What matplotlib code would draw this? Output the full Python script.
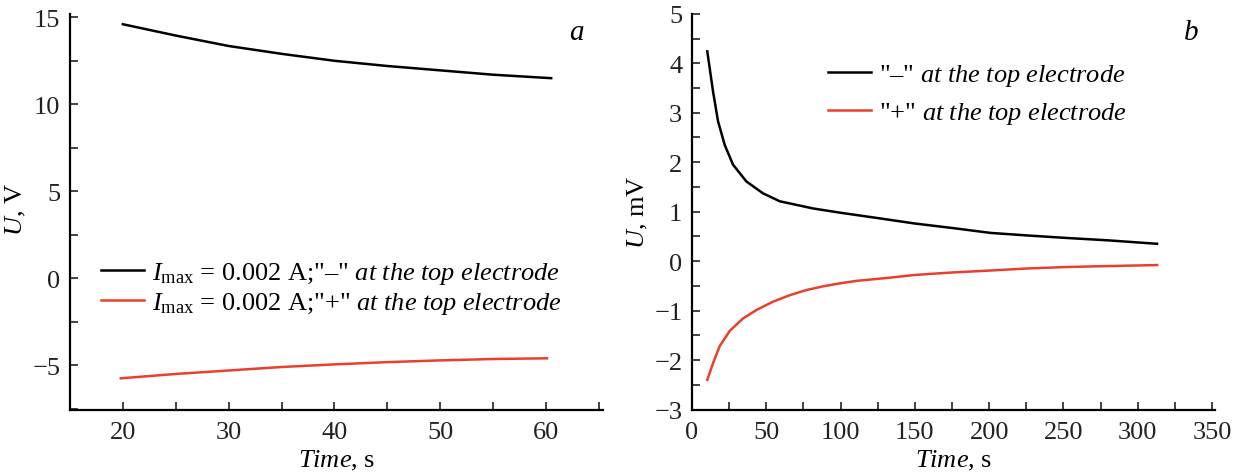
import matplotlib
matplotlib.use("Agg")
import matplotlib.pyplot as plt
from matplotlib.ticker import MultipleLocator

plt.rcParams['font.family'] = 'Liberation Serif'
plt.rcParams['mathtext.fontset'] = 'custom'
plt.rcParams['mathtext.rm'] = 'Liberation Serif'
plt.rcParams['mathtext.it'] = 'Liberation Serif:italic'
plt.rcParams['font.size'] = 19

# panel a data (Time, s / U, V)
a_neg_t = [20, 25, 30, 35, 40, 45, 50, 55, 60.5]
a_neg_u = [14.6, 13.95, 13.35, 12.9, 12.5, 12.2, 11.95, 11.7, 11.5]
a_pos_t = [19.8, 25, 30, 35, 40, 45, 50, 55, 60.1]
a_pos_u = [-5.75, -5.5, -5.3, -5.1, -4.95, -4.82, -4.72, -4.64, -4.6]

# panel b data (Time, s / U, mV)
b_neg_t = [10.3, 14.1, 17.5, 22, 27.6, 36.6, 47.8, 59, 81.4, 99.4, 125, 150, 175, 201, 225, 251, 280, 313]
b_neg_u = [4.24, 3.44, 2.83, 2.35, 1.95, 1.61, 1.37, 1.21, 1.065, 0.98, 0.87, 0.76, 0.67, 0.57, 0.52, 0.47, 0.42, 0.35]
b_pos_t = [10.3, 14.2, 18.6, 25.4, 34.3, 43.3, 54.5, 65.7, 77, 88.2, 99.4, 110.6, 133, 150, 175, 201, 225, 251, 280, 313]
b_pos_u = [-2.40, -2.06, -1.72, -1.41, -1.16, -0.99, -0.82, -0.69, -0.585, -0.51, -0.45, -0.40, -0.335, -0.28, -0.23, -0.19, -0.15, -0.12, -0.1, -0.08]

red = '#e8402c'

fig = plt.figure(figsize=(12.5, 4.77), dpi=100)
ax1 = fig.add_axes([0.056, 0.1384, 0.4264, 0.8302])
ax2 = fig.add_axes([0.5536, 0.1394, 0.4184, 0.8296])

for ax in (ax1, ax2):
    ax.spines['top'].set_visible(False)
    ax.spines['right'].set_visible(False)
    ax.spines['left'].set_linewidth(1.6)
    ax.spines['bottom'].set_linewidth(1.6)
    ax.tick_params(which='both', direction='in', length=6, width=1.2, labelsize=19, colors='#222222')
    ax.tick_params(axis='x', pad=8)
    ax.tick_params(axis='y', pad=7)

ax1.plot(a_neg_t, a_neg_u, color='black', lw=1.8,
         label=r'$I_{\rm max}$ = 0.002 A;"–" $at\ the\ top\ electrode$')
ax1.plot(a_pos_t, a_pos_u, color=red, lw=1.8,
         label=r'$I_{\rm max}$ = 0.002 A;"+" $at\ the\ top\ electrode$')
ax1.set_xlim(15, 65.4)
ax1.set_ylim(-7.57, 15.19)
ax1.xaxis.set_major_locator(MultipleLocator(10))
ax1.xaxis.set_minor_locator(MultipleLocator(5))
ax1.set_yticks([-5, 0, 5, 10, 15], ['−5', '0', '5', '10', '15'])
ax1.yaxis.set_minor_locator(MultipleLocator(2.5))
ax1.set_xlabel(r'$Time$, s', fontsize=19)
ax1.set_ylabel(r'$U$, V', fontsize=19)
ax1.xaxis.set_label_coords(0.5, -0.097)
ax1.yaxis.set_label_coords(-0.079, 0.51)
ax1.text(0.951, 0.955, 'a', transform=ax1.transAxes, fontsize=21, style='italic', ha='center', va='center')
ax1.legend(loc='upper left', bbox_to_anchor=(0.038, 0.405), frameon=False, fontsize=19,
           handlelength=1.65, handletextpad=0.3, labelspacing=0.15, borderaxespad=0)

ax2.plot(b_neg_t, b_neg_u, color='black', lw=1.8, label=r'"–" $at\ the\ top\ electrode$')
ax2.plot(b_pos_t, b_pos_u, color=red, lw=1.8, label=r'"+" $at\ the\ top\ electrode$')
ax2.set_xlim(0, 352)
ax2.set_ylim(-3, 5)
ax2.xaxis.set_major_locator(MultipleLocator(50))
ax2.xaxis.set_minor_locator(MultipleLocator(25))
ax2.set_yticks([-3, -2, -1, 0, 1, 2, 3, 4, 5], ['−3', '−2', '−1', '0', '1', '2', '3', '4', '5'])
ax2.yaxis.set_minor_locator(MultipleLocator(0.5))
ax2.set_xlabel(r'$Time$, s', fontsize=19)
ax2.set_ylabel(r'$U$, mV', fontsize=19)
ax2.xaxis.set_label_coords(0.5, -0.097)
ax2.yaxis.set_label_coords(-0.080, 0.50)
ax2.text(0.955, 0.955, 'b', transform=ax2.transAxes, fontsize=21, style='italic', ha='center', va='center')
ax2.legend(loc='upper left', bbox_to_anchor=(0.239, 0.905), frameon=False, fontsize=19,
           handlelength=1.65, handletextpad=0.3, labelspacing=0.45, borderaxespad=0)

fig.savefig('out.png', dpi=100)
